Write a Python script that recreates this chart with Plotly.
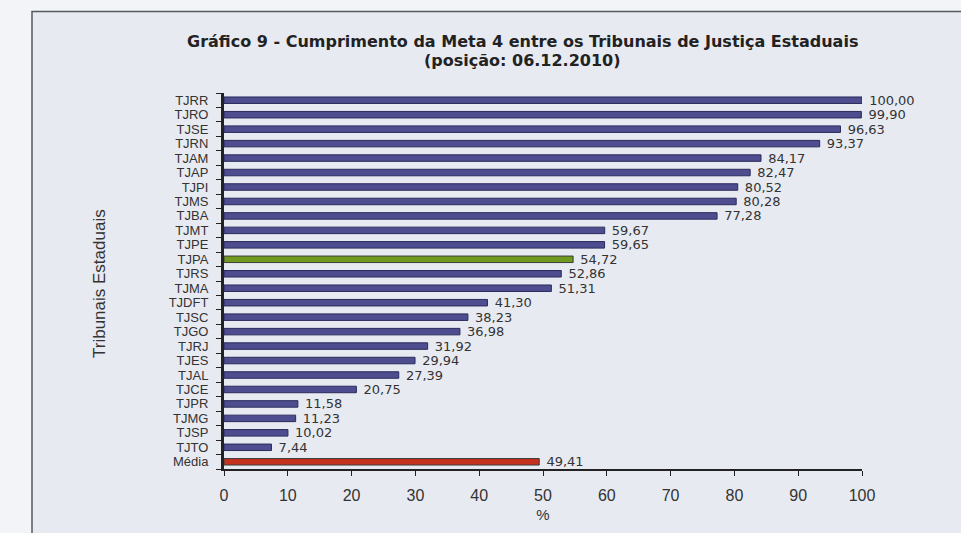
import plotly.graph_objects as go

# Data
tribunais = ['TJRR', 'TJRO', 'TJSE', 'TJRN', 'TJAM', 'TJAP', 'TJPI', 'TJMS', 'TJBA',
             'TJMT', 'TJPE', 'TJPA', 'TJRS', 'TJMA', 'TJDFT', 'TJSC', 'TJGO', 'TJRJ',
             'TJES', 'TJAL', 'TJCE', 'TJPR', 'TJMG', 'TJSP', 'TJTO', 'Média']
cumprimento = [100.00, 99.90, 96.63, 93.37, 84.17, 82.47, 80.52, 80.28, 77.28,
               59.67, 59.65, 54.72, 52.86, 51.31, 41.30, 38.23, 36.98, 31.92,
               29.94, 27.39, 20.75, 11.58, 11.23, 10.02, 7.44, 49.41]
x_ticks = [0, 10, 20, 30, 40, 50, 60, 70, 80, 90, 100]

def bar_color(name):
    if name == 'TJPA':
        return '#6f9a1e'
    if name == 'Média':
        return '#c4321e'
    return '#4d4d8f'

colors = [bar_color(t) for t in tribunais]
line_colors = ['#2b2b5c' if t not in ('TJPA', 'Média') else '#3d3d3d' for t in tribunais]
labels = ['\u00a0' + f'{v:.2f}'.replace('.', ',') for v in cumprimento]

fig = go.Figure(go.Bar(
    x=cumprimento, y=tribunais, orientation='h',
    marker=dict(color=colors, line=dict(color=line_colors, width=1)),
    text=labels, textposition='outside', cliponaxis=False, constraintext='none',
    textfont=dict(family='DejaVu Sans', size=13, color='#333333'),
))

# geometry in pixels
W, H = 961, 533
L, R, T, B = 224, 99, 93, 62
pw, ph = W - L - R, H - T - B

def px_x(x):
    return (x - L) / pw

def px_y(y):
    return (H - B - y) / ph

fig.add_shape(type='rect', xref='paper', yref='paper',
              x0=px_x(32), x1=px_x(975), y0=px_y(545), y1=px_y(11),
              fillcolor='#e8eaf1', line=dict(color='#555a5e', width=1.5), layer='below')

title_font = dict(family='DejaVu Sans', size=16, color='#222222')
fig.add_annotation(text='<b>Gráfico 9 - Cumprimento da Meta 4 entre os Tribunais de Justiça Estaduais</b>',
                   showarrow=False, xref='paper', yref='paper', x=px_x(522), y=px_y(41),
                   xanchor='center', yanchor='middle', font=title_font)
fig.add_annotation(text='<b>(posição: 06.12.2010)</b>',
                   showarrow=False, xref='paper', yref='paper', x=px_x(522), y=px_y(60),
                   xanchor='center', yanchor='middle', font=title_font)

fig.add_annotation(text='Tribunais Estaduais', textangle=-90, showarrow=False,
                   xref='paper', yref='paper', x=px_x(100), y=px_y(285),
                   xanchor='center', yanchor='middle',
                   font=dict(family='Liberation Sans', size=17, color='#333333'))

fig.update_layout(
    width=W, height=H,
    margin=dict(l=L, r=R, t=T, b=B),
    paper_bgcolor='#f3f4f7', plot_bgcolor='rgba(0,0,0,0)',
    showlegend=False,
    bargap=0.55,
    font=dict(family='Liberation Sans', color='#333333'),
)

fig.update_xaxes(range=[0, 100], tickvals=x_ticks, showgrid=False, zeroline=False,
                 showline=True, linecolor='#222222', linewidth=2,
                 ticks='outside', ticklen=5, tickcolor='#222222', ticklabelstandoff=6,
                 tickfont=dict(size=16, color='#333333'),
                 title=dict(text='%', font=dict(size=15, color='#333333'), standoff=6))
fig.update_yaxes(categoryorder='array', categoryarray=tribunais, autorange='reversed',
                 tickmode='array', tickvals=tribunais,
                 showgrid=False, showline=True, linecolor='#222222', linewidth=3,
                 ticks='outside', ticklen=5, tickcolor='#222222', tickson='boundaries',
                 ticklabelstandoff=10,
                 tickfont=dict(size=13, color='#333333'))

fig.write_html('out.html', config={'displayModeBar': False},
               post_script="document.body.style.margin='0';")
